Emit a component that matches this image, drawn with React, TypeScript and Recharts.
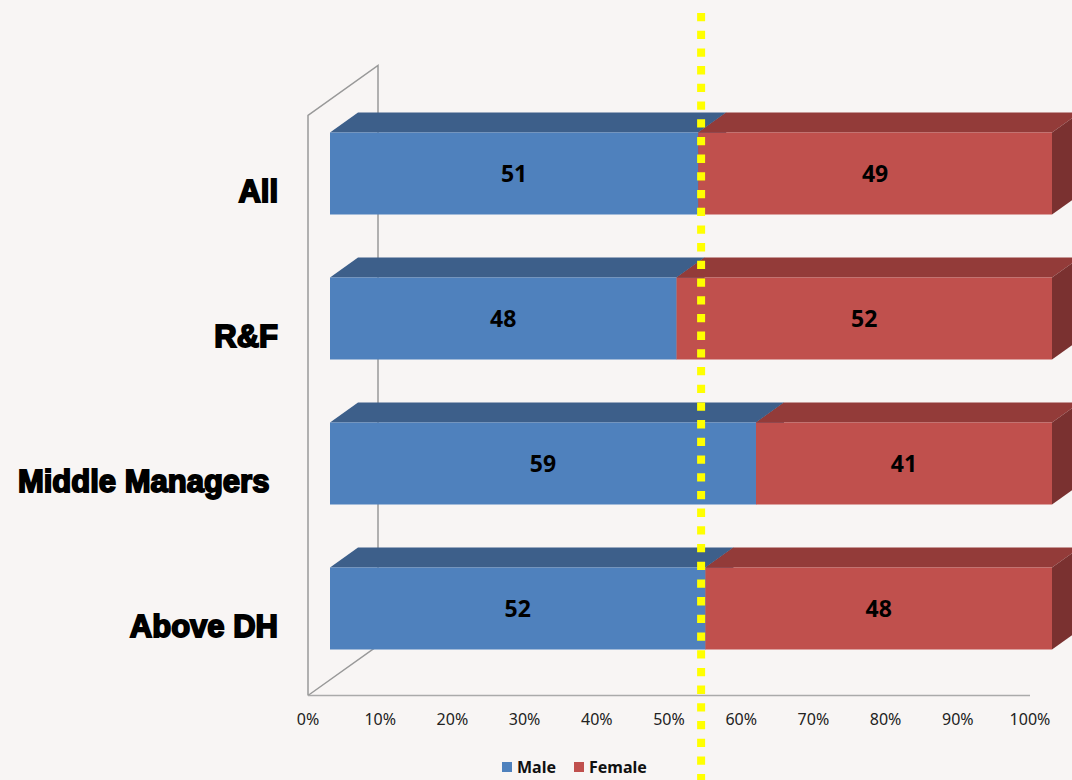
import { Bar, BarChart, CartesianGrid, LabelList, Legend, ReferenceLine, XAxis, YAxis } from 'recharts'

const categories = ['All', 'R&F', 'Middle Managers ', 'Above DH']
const male = [51, 48, 59, 52]
const female = [49, 52, 41, 48]
const ticks = [0, 10, 20, 30, 40, 50, 60, 70, 80, 90, 100]
const marker = 51.4

const data = categories.map((name, i) => ({ name, male: male[i], female: female[i] }))

// 3d look
const DX = 28
const DY = 20
const WALL_X = -22
const WALL_Y = 15

function Box3D(props: any) {
  const { x, y, width, height, front, top, side } = props
  const r = x + width
  return (
    <g>
      <polygon points={`${x},${y} ${x + DX},${y - DY} ${r + DX},${y - DY} ${r},${y}`} fill={top} />
      <polygon points={`${r},${y} ${r + DX},${y - DY} ${r + DX},${y + height - DY} ${r},${y + height}`} fill={side} />
      <rect x={x} y={y} width={width} height={height} fill={front} />
    </g>
  )
}

// side wall, drawn from the grid so it sits behind the bars
function Wall(props: any) {
  if (props.index !== 0) return <g key={props.key} />
  const t = props.y
  const b = props.y + props.height
  const fx = props.x + WALL_X
  const bx = fx + 70
  return (
    <polyline key={props.key} fill="none" stroke="#999" strokeWidth={1.5}
      points={`${fx},${b + WALL_Y} ${fx},${t + WALL_Y} ${bx},${t + WALL_Y - 50} ${bx},${b + WALL_Y - 50} ${fx},${b + WALL_Y}`} />
  )
}

function Marker(props: any) {
  return <line x1={props.x1} x2={props.x1} y1={13} y2={780} stroke="#ffff00" strokeWidth={8} strokeDasharray="8.3 9.4" />
}

function CatTick({ x, y, payload }: any) {
  return (
    <text x={x - 44} y={y + 29} textAnchor="end" fontFamily="Liberation Sans" fontWeight={700} fontSize={31}
      fill="#000" stroke="#000" strokeWidth={1.8} style={{ whiteSpace: 'pre' }}>
      {payload.value}
    </text>
  )
}

function AxisTick({ x, y, payload }: any) {
  return (
    <text x={x + WALL_X} y={y} dy={36} textAnchor="middle" fontFamily="Noto Sans" fontSize={16} fill="#222">
      {payload.value}%
    </text>
  )
}

function LegendBox() {
  const items = [
    { label: 'Male', color: '#4f81bd' },
    { label: 'Female', color: '#c0504d' },
  ]
  return (
    <div style={{ display: 'flex', marginLeft: 502, fontFamily: 'Noto Sans', fontWeight: 700, fontSize: 16, color: '#111' }}>
      {items.map((it) => (
        <div key={it.label} style={{ display: 'flex', alignItems: 'center', marginRight: 18 }}>
          <span style={{ width: 10, height: 10, background: it.color, marginRight: 5 }} />
          {it.label}
        </div>
      ))}
    </div>
  )
}

export default function App() {
  return (
    <div style={{ position: 'absolute', left: 0, top: 0, width: 1072, height: 780, background: '#f8f5f4', overflow: 'hidden' }}>
      <BarChart width={1072} height={780} data={data} layout="vertical" margin={{ top: 100.5, right: 20, bottom: 0, left: 0 }}>
        <CartesianGrid horizontal={false} vertical={Wall} />
        <XAxis type="number" domain={[0, 100]} ticks={ticks} height={99.5} tickLine={false}
          axisLine={{ stroke: '#aaa', strokeWidth: 1.5, transform: `translate(${WALL_X} ${WALL_Y})` }} tick={AxisTick} />
        <YAxis type="category" dataKey="name" width={330} axisLine={false} tickLine={false} tick={CatTick} />
        <Bar dataKey="male" stackId="a" barSize={82} isAnimationActive={false}
          shape={(p: any) => <Box3D {...p} front="#4f81bd" top="#3d5f8a" side="#30496b" />}>
          <LabelList dataKey="male" position="center" fill="#000" fontFamily="Noto Sans" fontWeight={700} fontSize={23} />
        </Bar>
        <Bar dataKey="female" stackId="a" barSize={82} isAnimationActive={false}
          shape={(p: any) => <Box3D {...p} front="#c0504d" top="#933b39" side="#7a3130" />}>
          <LabelList dataKey="female" position="center" fill="#000" fontFamily="Noto Sans" fontWeight={700} fontSize={23} />
        </Bar>
        <ReferenceLine x={marker} shape={Marker} ifOverflow="visible" />
        <Legend verticalAlign="middle" align="center" wrapperStyle={{ top: 756, left: 0, width: 1072 }} content={LegendBox} />
      </BarChart>
    </div>
  )
}
